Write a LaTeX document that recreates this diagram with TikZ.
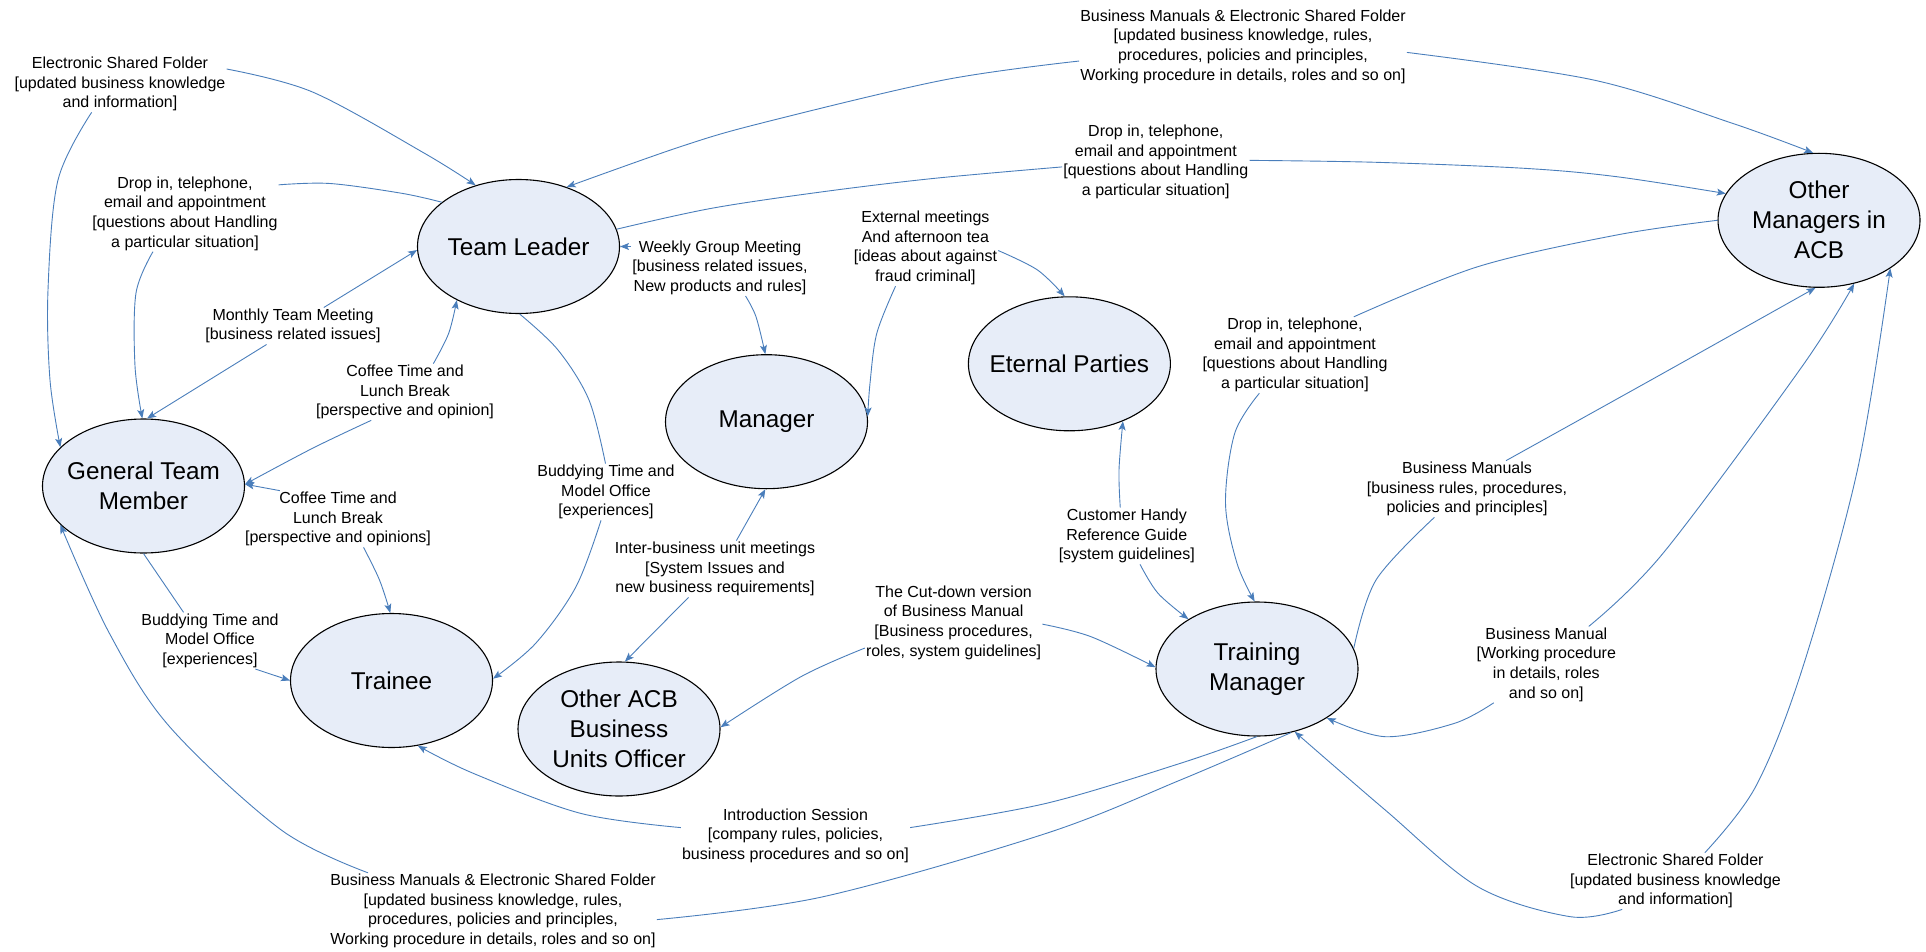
\documentclass[tikz,border=0pt]{standalone}
\usepackage{fontspec}
\setmainfont{Liberation Sans}
\usetikzlibrary{shapes.geometric,arrows.meta}
\definecolor{linkblue}{RGB}{74,126,187}
\definecolor{ellfill}{RGB}{231,237,248}
\begin{document}
\begin{tikzpicture}[x=1pt,y=-1pt,
  ell/.style={ellipse, draw=black, line width=1.1pt, fill=ellfill, minimum width=202pt, minimum height=134pt, inner sep=-25pt, align=center, font=\fontsize{24.3}{30}\selectfont},
  lab/.style={align=center, inner sep=1pt, font=\fontsize{16}{19.7}\selectfont},
  link/.style={draw=linkblue, line width=0.9pt},
  arr/.style={link, -{Stealth[length=9pt,width=7pt,inset=2pt]}},
  sm/.style={smooth, tension=0.55}]
\useasboundingbox (0,0) rectangle (1926,952);

% ellipses
\node[ell] (tl) at (518.5,246.5) {Team Leader};
\node[ell] (gtm) at (143.5,486) {General Team\\Member};
\node[ell] (trainee) at (391.5,680.5) {Trainee};
\node[ell] (oacb) at (619,729) {Other ACB\\Business\\Units Officer};
\node[ell] (manager) at (766.5,421.7) {Manager};
\node[ell] (ep) at (1069.4,363.8) {Eternal Parties};
\node[ell] (tm) at (1257,669) {Training\\Manager};
\node[ell] (om) at (1819,220.3) {Other\\Managers in\\ACB};

% labels
\node[lab] (l1) at (120,84) {Electronic Shared Folder\\{}[updated business knowledge\\and information]};
\node[lab] (l2) at (185,213.5) {Drop in, telephone,\\email and appointment\\{}[questions about Handling\\a particular situation]};
\node[lab] (l3) at (293,326) {Monthly Team Meeting\\{}[business related issues]};
\node[lab] (l4) at (405,392) {Coffee Time and\\Lunch Break\\{}[perspective and opinion]};
\node[lab] (l5) at (606,492) {Buddying Time and\\Model Office\\{}[experiences]};
\node[lab] (l6) at (338,519) {Coffee Time and\\Lunch Break\\{}[perspective and opinions]};
\node[lab] (l7) at (210,640.7) {Buddying Time and\\Model Office\\{}[experiences]};
\node[lab] (l8) at (493,911) {Business Manuals \& Electronic Shared Folder\\{}[updated business knowledge, rules,\\procedures, policies and principles,\\Working procedure in details, roles and so on]};
\node[lab] (l9) at (720,267.7) {Weekly Group Meeting\\{}[business related issues,\\New products and rules]};
\node[lab] (l10) at (925.4,248) {External meetings\\And afternoon tea\\{}[ideas about against\\fraud criminal]};
\node[lab] (l11) at (1243,46.7) {Business Manuals \& Electronic Shared Folder\\{}[updated business knowledge, rules,\\procedures, policies and principles,\\Working procedure in details, roles and so on]};
\node[lab] (l12) at (1155.8,162) {Drop in, telephone,\\email and appointment\\{}[questions about Handling\\a particular situation]};
\node[lab] (l13) at (1295,355) {Drop in, telephone,\\email and appointment\\{}[questions about Handling\\a particular situation]};
\node[lab] (l14) at (1467,489) {Business Manuals\\{}[business rules, procedures,\\policies and principles]};
\node[lab] (l15) at (715,569) {Inter-business unit meetings\\{}[System Issues and\\new business requirements]};
\node[lab] (l16) at (1126.8,536) {Customer Handy\\Reference Guide\\{}[system guidelines]};
\node[lab] (l17) at (953.6,622.6) {The Cut-down version\\of Business Manual\\{}[Business procedures,\\roles, system guidelines]};
\node[lab] (l18) at (1546.3,664.6) {Business Manual\\{}[Working procedure\\in details, roles\\and so on]};
\node[lab] (l19) at (795.5,835.6) {Introduction Session\\{}[company rules, policies,\\business procedures and so on]};
\node[lab] (l20) at (1675.5,881) {Electronic Shared Folder\\{}[updated business knowledge\\and information]};

% connectors
\draw[arr] plot[sm] coordinates {(l1.8) (312.5,92) (424,153) (tl.125)};
\draw[arr] plot[sm] coordinates {(l1.225) (58,180) (48,290) (50,380) (gtm.155)};
\draw[link] plot[sm] coordinates {(tl.150) (401.8,193.3) (330,183.5) (l2.17)};
\draw[arr] plot[sm] coordinates {(l2.230) (136,293) (135,366) (gtm.91)};
\draw[arr] (l3.31) -- (tl.182);
\draw[arr] (l3.215) -- (gtm.87);
\draw[arr] plot[sm] coordinates {(l4.45) (448.7,333.3) (tl.221)};
\draw[arr] plot[sm] coordinates {(l4.220) (312.5,448.3) (gtm.1)};
\draw[link] plot[sm] coordinates {(tl.271) (558,350) (589,400) (l5.91)};
\draw[arr] plot[sm] coordinates {(l5.260) (576,586.7) (535.7,643.3) (trainee.1)};
\draw[arr] (l6.154) -- (gtm.1);
\draw[arr] plot[sm] coordinates {(l6.312) (379.5,580) (trainee.91)};
\draw[link] (gtm.270) -- (l7.133);
\draw[arr] (l7.328) -- (trainee.180);
\draw[arr] plot[sm] coordinates {(l8.163) (281.3,830) (169.6,726.7) (109.4,633.3) (gtm.205)};
\draw[link] plot[sm] coordinates {(tm.298) (1180.4,780) (1046.4,833.3) (823.2,896.7) (l8.357)};
\draw[arr] (l9.west |- tl.east) -- (tl.east);
\draw[arr] plot[sm] coordinates {(l9.312) (756,316.7) (manager.91)};
\draw[arr] plot[sm] coordinates {(l10.358) (1037.5,270) (ep.94)};
\draw[arr] plot[sm] coordinates {(l10.232) (876.8,333.3) (870,383.3) (manager.3)};
\draw[arr] plot[sm] coordinates {(l11.185) (943.75,80) (760.7,123.3) (680.4,146.7) (tl.51)};
\draw[arr] plot[sm] coordinates {(l11.358) (1593.5,80) (1732.4,123.3) (om.95)};
\draw[link] plot[sm] coordinates {(tl.10) (711.6,208.3) (823.2,191.7) (934.8,178.3) (l12.183)};
\draw[arr] plot[sm] coordinates {(l12.1) (1376,162.3) (1524,168.3) (1616.7,176.7) (om.164)};
\draw[link] plot[sm] coordinates {(om.180) (1616.7,235) (1477.8,266.7) (l13.33)};
\draw[arr] plot[sm] coordinates {(l13.227) (1234.7,433.3) (1225.5,503.3) (1237,563.3) (tm.92)};
\draw[link] plot[sm] coordinates {(tm.12) (1376,580) (l14.221)};
\draw[arr] plot[sm] coordinates {(l14.36) (1663,373.3) (om.267)};
\draw[arr] (l15.53) -- (manager.269);
\draw[arr] (l15.227) -- (oacb.85);
\draw[arr] plot[sm] coordinates {(l16.103) (1119,470) (ep.313)};
\draw[arr] plot[sm] coordinates {(l16.295) (1158,593.3) (tm.144)};
\draw[arr] plot[sm] coordinates {(l17.359) (1091,636.7) (tm.179)};
\draw[arr] plot[sm] coordinates {(l17.196) (800.9,676.7) (oacb.1)};
\draw[arr] plot[sm] coordinates {(l18.42) (1663,553.3) (1801.9,366.7) (om.299)};
\draw[arr] plot[sm] coordinates {(l18.216) (1454.6,723.3) (1385.2,736.7) (tm.325)};
\draw[link] plot[sm] coordinates {(tm.270) (1180.4,763.3) (1046.4,803.3) (l19.4)};
\draw[arr] plot[sm] coordinates {(l19.176) (580.4,813.3) (473.2,773.3) (trainee.292)};
\draw[arr] plot[sm] coordinates {(l20.44) (1755.6,786.7) (1801.9,670) (1857.4,470) (om.326)};
\draw[arr] plot[sm] coordinates {(l20.208) (1570.4,916.7) (1477.8,886.7) (1385.2,810) (tm.301)};
\end{tikzpicture}
\end{document}
